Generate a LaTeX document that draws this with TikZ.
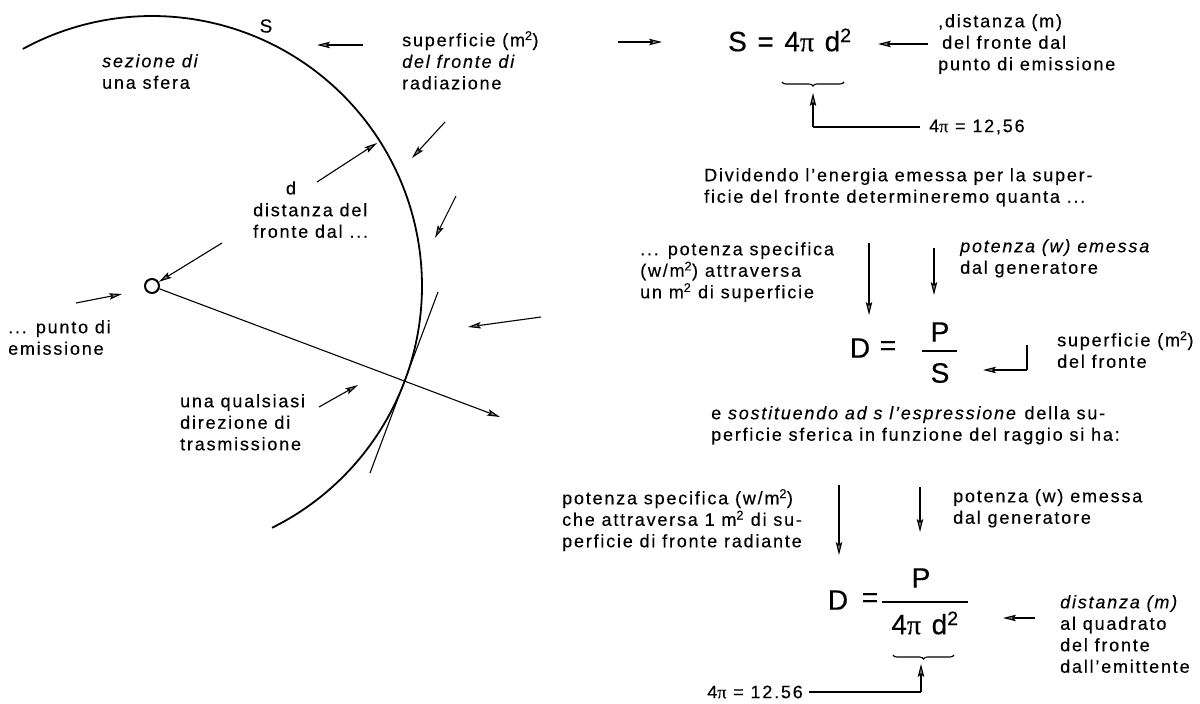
\documentclass[tikz,border=0pt]{standalone}
\usepackage{fontspec}
\setmainfont{Liberation Sans}[LetterSpace=10,FakeBold=0.3]
\newfontfamily\pifont{Liberation Serif}[FakeBold=0.3]
\usetikzlibrary{arrows.meta,decorations.pathreplacing}
\newcommand\lbfont{\fontsize{18}{21.5}\selectfont}
\newcommand\fmfont{\fontsize{28}{30}\selectfont}
\newcommand\PI{{\pifont π}}
\begin{document}
\begin{tikzpicture}[x=1pt,y=-1pt,
  lbl/.style={inner sep=0pt, anchor=north west, align=left, font=\lbfont},
  fml/.style={inner sep=0pt, font=\fmfont},
  arr/.style={line width=1.1pt, -{Stealth[length=13pt,width=6.5pt,inset=2.5pt,fill=black!50]}},
  thin/.style={line width=1.1pt},
  arcline/.style={line width=1.8pt},
  bracestyle/.style={line width=1.1pt, decorate, decoration={brace,mirror,amplitude=4pt}}]
\useasboundingbox (0,0) rectangle (1200,704);
\fill[white] (0,0) rectangle (1200,704);

% ---------- left figure: section of a sphere centred on the emission point ----------
\node[circle, draw, line width=2pt, minimum size=14pt, inner sep=0pt] (src) at (152,286) {};
\draw[arcline] plot[smooth, samples=60, domain=-118.6:63.6] ({152+270*cos(\x)},{286+270*sin(\x)});
\coordinate (t1) at (438,292);
\coordinate (t2) at (370,473);
\draw[thin] (t1) -- (t2);
\coordinate (rayend) at (500,417);
\draw[arr] (src) -- (rayend);

\node[inner sep=0pt, font=\fontsize{19}{21}\selectfont] (Slab) at (266,26) {S};
\node[lbl] (sez) at (102,54) {\textit{sezione di}\\una sfera};
\node[lbl] (sup1) at (402,31) {superficie (m\textsuperscript{2})\\\textit{del fronte di}\\radiazione};
\node[inner sep=0pt, font=\lbfont] (dlab) at (291,188) {d};
\node[lbl] (dist1) at (253,203) {distanza del\\fronte dal ...};
\node[lbl] (punto) at (8,320) {... punto di\\emissione};
\node[lbl] (qual) at (180,394) {una qualsiasi\\direzione di\\trasmissione};

\coordinate (a1s) at (363,45); \coordinate (a1e) at (317,45);
\draw[arr] (a1s) -- (a1e);
\coordinate (a2s) at (445,122); \coordinate (a2e) at (412,158);
\draw[arr] (a2s) -- (a2e);
\coordinate (ads) at (317,182); \coordinate (ade) at (377,143);
\draw[arr] (ads) -- (ade);
\coordinate (a3s) at (456,196); \coordinate (a3e) at (435,238);
\draw[arr] (a3s) -- (a3e);
\coordinate (acs) at (222,243);
\draw[arr] (acs) -- (src);
\coordinate (aps) at (76,303); \coordinate (ape) at (122,294);
\draw[arr] (aps) -- (ape);
\coordinate (ars) at (541,317); \coordinate (are) at (468,327);
\draw[arr] (ars) -- (are);
\coordinate (aqs) at (319,407); \coordinate (aqe) at (358,385);
\draw[arr] (aqs) -- (aqe);

% ---------- upper right ----------
\coordinate (r1s) at (618,42); \coordinate (r1e) at (662,42);
\draw[arr] (r1s) -- (r1e);
\node[fml, anchor=west] (f1) at (728,40) {S = 4\PI\ d\textsuperscript{2}};
\coordinate (r2s) at (928,44); \coordinate (r2e) at (878,44);
\draw[arr] (r2s) -- (r2e);
\node[lbl] (dist2) at (938,14) {,distanza (m)\\\hspace*{4pt}del fronte dal\\punto di emissione};
\coordinate (b1l) at (782,82); \coordinate (b1r) at (844,82);
\draw[bracestyle] (b1l) -- (b1r);
\coordinate (v0c) at (813,127); \coordinate (v0t) at (813,93); \coordinate (v0r) at (920,127);
\draw[thin] (v0r) -- (v0c);
\draw[arr] (v0c) -- (v0t);
\node[inner sep=0pt, anchor=west, font=\lbfont] (pi1) at (929,127) {4\PI\ = 12,56};
\node[lbl] (divid) at (704,168) {Dividendo l'energia emessa per la super-\\ficie del fronte determineremo quanta ...};

% ---------- middle right ----------
\node[lbl] (pot1) at (640,242) {... potenza specifica\\(w/m\textsuperscript{2}) attraversa\\un m\textsuperscript{2} di superficie};
\coordinate (v1s) at (869,243); \coordinate (v1e) at (869,315);
\draw[arr] (v1s) -- (v1e);
\coordinate (v2s) at (934,248); \coordinate (v2e) at (934,295);
\draw[arr] (v2s) -- (v2e);
\node[lbl] (pot2) at (960,239) {\textit{potenza (w) emessa}\\dal generatore};
\node[fml] (D1) at (860,348) {D};
\node[fml] (eq1) at (888,348) {=};
\node[fml] (P1) at (940,332) {P};
\draw[thin] (922,351) -- (957,351);
\node[fml] (S1) at (940,373) {S};
\coordinate (k1a) at (1027,345); \coordinate (k1b) at (1027,370); \coordinate (k1c) at (983,370);
\draw[thin] (k1a) -- (k1b);
\draw[arr] (k1b) -- (k1c);
\node[lbl] (sup2) at (1057,331) {superficie (m\textsuperscript{2})\\del fronte};
\node[lbl] (sost) at (711,406) {e \textit{sostituendo ad s l'espressione} della su-\\perficie sferica in funzione del raggio si ha:};

% ---------- lower right ----------
\node[lbl] (pot3) at (562,489) {potenza specifica (w/m\textsuperscript{2})\\che attraversa 1 m\textsuperscript{2} di su-\\perficie di fronte radiante};
\coordinate (v3s) at (839,485); \coordinate (v3e) at (839,555);
\draw[arr] (v3s) -- (v3e);
\coordinate (v4s) at (920,487); \coordinate (v4e) at (920,532);
\draw[arr] (v4s) -- (v4e);
\node[lbl] (pot4) at (953,489) {potenza (w) emessa\\dal generatore};
\node[fml] (D2) at (838,600) {D};
\node[fml] (eq2) at (870,600) {=};
\draw[thin] (882,602) -- (968,602);
\node[fml] (P2) at (921,578) {P};
\node[fml] (den2) at (925,623) {4\PI\ d\textsuperscript{2}};
\coordinate (b2l) at (893,655); \coordinate (b2r) at (954,655);
\draw[bracestyle] (b2l) -- (b2r);
\node[inner sep=0pt, anchor=east, font=\lbfont] (pi2) at (803,692) {4\PI\ = 12.56};
\coordinate (k2b) at (921,692); \coordinate (k2c) at (921,664);
\draw[thin] ([xshift=6pt]pi2.east) -- (k2b);
\draw[arr] (k2b) -- (k2c);
\coordinate (r3s) at (1035,618); \coordinate (r3e) at (1003,618);
\draw[arr] (r3s) -- (r3e);
\node[lbl] (dist3) at (1060,595) {\textit{distanza (m)}\\al quadrato\\del fronte\\dall'emittente};
\end{tikzpicture}
\end{document}
